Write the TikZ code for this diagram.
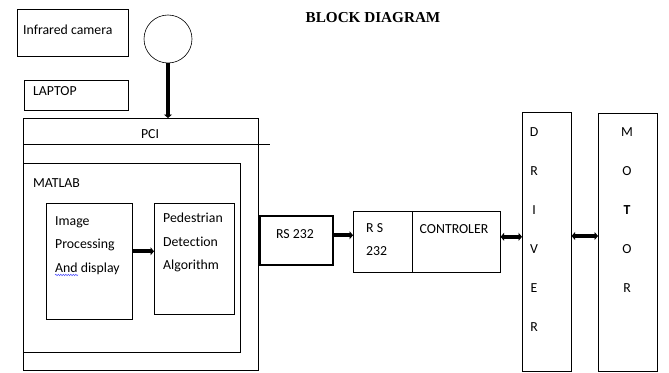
\documentclass[tikz,border=0pt]{standalone}
\usepackage{fontspec}
\setmainfont{Carlito}[Ligatures=NoCommon]
\newfontfamily\titlefont{Liberation Serif}
\usetikzlibrary{arrows.meta,positioning,decorations.pathmorphing}

\begin{document}
\begin{tikzpicture}[x=1pt,y=-1pt,
    box/.style={draw,line width=0.6pt,inner sep=0pt,anchor=north west},
    lbl/.style={inner sep=0pt,font=\fontsize{13.8}{16}\selectfont},
    link/.style={line width=4pt,-{Triangle[length=3.5pt,width=8pt]}},
    dlink/.style={line width=4pt,{Triangle[length=3.5pt,width=8pt]}-{Triangle[length=3.5pt,width=8pt]}}]
    \useasboundingbox (0,0) rectangle (669,372);

    \node[font=\titlefont\bfseries\fontsize{15.2}{17}\selectfont] (title) at (373,18) {BLOCK DIAGRAM};

    %CAMERA
    \node[box,minimum width=111,minimum height=47] (cambox) at (17,9) {};
    \node[lbl,right=6pt of cambox.west,yshift=3pt] (camtxt) {Infrared camera};
    \node[draw,line width=0.6pt,circle,minimum size=48] (cam) at (168,39) {};

    %LAPTOP
    \node[box,minimum width=104,minimum height=30] (laptop) at (24,80) {};
    \node[lbl,right=9pt of laptop.west,yshift=4pt] (laptxt) {LAPTOP};

    %PCI
    \node[box,minimum width=235,minimum height=252] (pci) at (23,118) {};
    \draw[line width=0.6pt] ([yshift=-26pt]pci.north west) -- ++(247,0);
    \node[lbl] (pcitxt) at (150,134) {PCI};
    \draw[link] (cam.south) -- (cam.south |- pci.north);

    %MATLAB
    \node[box,minimum width=217,minimum height=189] (matlab) at (23,163) {};
    \node[lbl,anchor=west] (mattxt) at (33,183) {MATLAB};
    \node[box,minimum width=86,minimum height=116] (imgproc) at (46,203) {};
    \node[lbl,anchor=north west,align=left,font=\fontsize{13.8}{23.5}\selectfont] (imgtxt) at (55,216) {Image\\Processing\\And display};
    \draw[blue!70!white,line width=0.5pt,decorate,decoration={snake,segment length=2.5pt,amplitude=0.7pt}] ([yshift=-0.5pt]imgtxt.south west) -- ++(23,0);
    \node[box,minimum width=80,minimum height=111] (pedes) at (154,203) {};
    \node[lbl,anchor=north west,align=left,font=\fontsize{13.8}{23.5}\selectfont] (pedtxt) at (163,213) {Pedestrian\\Detection\\Algorithm};
    \draw[link] ([yshift=10pt]imgproc.east) -- ([yshift=10pt]imgproc.east -| pedes.west);

    %RS 232
    \node[box,line width=1.5pt,minimum width=73,minimum height=49] (rsa) at (259,215) {};
    \node[lbl] (rsatxt) at (295,234) {RS 232};
    \node[box,minimum width=59,minimum height=61] (rsb) at (353,211) {};
    \node[lbl,anchor=north west,align=left,font=\fontsize{13.8}{23}\selectfont] (rsbtxt) at (366,223) {R S\\232};
    \node[box,minimum width=88,minimum height=61] (ctrl) at (412,211) {};
    \node[lbl] (ctrltxt) at (454,229) {CONTROLER};
    \draw[link] ([yshift=5pt]rsa.east) -- ([yshift=5pt]rsa.east -| rsb.west);

    %DRIVER
    \node[box,minimum width=49,minimum height=259] (driver) at (522,112) {};
    \foreach \l [count=\i] in {D,R,I,V,E,R}
      \node[lbl] (drv\i) at (534,132+39*\i-39) {\l};

    %MOTOR
    \node[box,minimum width=59,minimum height=258] (motor) at (598,113) {};
    \foreach \l [count=\i] in {M,O,\textbf{T},O,R}
      \node[lbl] (mot\i) at (627,132+39*\i-39) {\l};

    \draw[dlink] ([yshift=5pt]ctrl.east) -- ([yshift=5pt]ctrl.east -| driver.west);
    \draw[dlink] (driver.east |- 0,236) -- (motor.west |- 0,236);
\end{tikzpicture}
\end{document}
